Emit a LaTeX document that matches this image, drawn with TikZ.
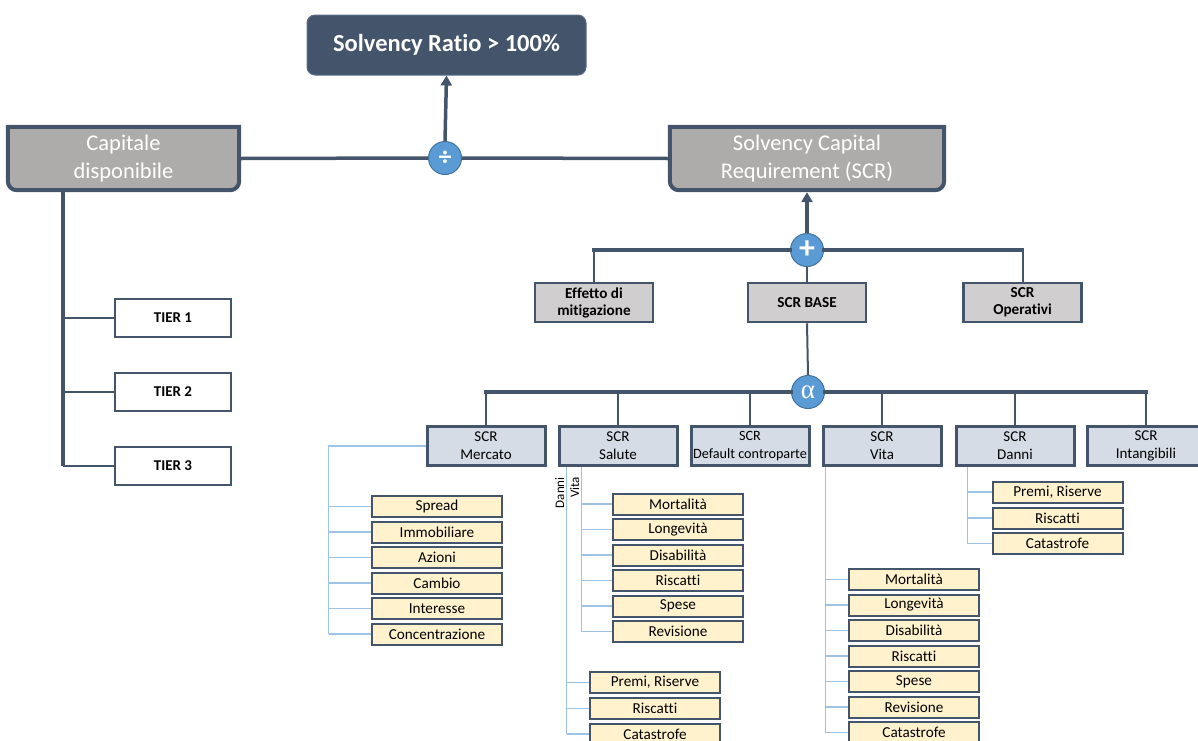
\documentclass[tikz,border=0pt]{standalone}
\usepackage{fontspec}
\setmainfont{Carlito}[Ligatures=NoCommon]
\newfontfamily\greekserif{Liberation Serif}
\usetikzlibrary{arrows.meta,backgrounds,calc}
\definecolor{dark}{HTML}{44546A}
\definecolor{darkedge}{HTML}{5A6E8C}
\definecolor{capgray}{HTML}{AEABAB}
\definecolor{midgray}{HTML}{D0CECE}
\definecolor{bluegray}{HTML}{D6DCE5}
\definecolor{cream}{HTML}{FFF2CC}
\definecolor{circblue}{HTML}{5B9BD5}
\definecolor{circedge}{HTML}{41719C}
\definecolor{lblue}{HTML}{9DC3E6}
\begin{document}
\begin{tikzpicture}[x=1pt,y=-1pt,
  ratiobox/.style={rectangle, rounded corners=8pt, fill=dark, draw=darkedge, line width=1pt,
    minimum width=279pt, minimum height=60pt, text=white, inner sep=0pt,
    font=\bfseries\fontsize{24.5}{28}\selectfont},
  bigbox/.style={rectangle, minimum height=63pt, text=white, align=center, inner sep=0pt,
    font=\fontsize{22.5}{28}\selectfont},
  bigoutline/.style={fill=capgray, draw=dark, line width=4pt},
  opcirc/.style={circle, fill=circblue, draw=circedge, line width=1pt, minimum size=33pt,
    inner sep=0pt, text=white},
  lvlbox/.style={rectangle, fill=midgray, draw=dark, line width=2.5pt, minimum width=118pt,
    minimum height=39pt, align=center, inner sep=0pt, font=\bfseries\fontsize{15.2}{17}\selectfont},
  secbox/.style={rectangle, fill=bluegray, draw=dark, line width=3pt, minimum width=118pt,
    minimum height=39pt, align=center, inner sep=0pt, font=\fontsize{15}{18}\selectfont},
  leafbox/.style={rectangle, fill=cream, draw=dark, line width=2pt, minimum width=130pt,
    minimum height=21pt, inner sep=0pt, font=\fontsize{15.2}{16}\selectfont},
  tierbox/.style={rectangle, fill=white, draw=dark, line width=1.5pt, minimum width=116pt,
    minimum height=38pt, inner sep=0pt, font=\bfseries\fontsize{15}{17}\selectfont},
  thickline/.style={draw=dark, line width=3.5pt},
  busdrop/.style={draw=dark, line width=2pt},
  tierline/.style={draw=dark, line width=1.5pt},
  lbline/.style={draw=lblue, line width=1.3pt},
  uparrow/.style={-{Triangle[width=11pt,length=10pt]}},
  sidelabel/.style={rotate=90, anchor=south east, inner sep=1pt, font=\fontsize{13}{14}\selectfont}
]
\useasboundingbox (0,0) rectangle (1198,740);
\clip (0,0) rectangle (1198,740);

% top level
\node[ratiobox] (ratio) at (446.5,45) {Solvency Ratio > 100\%};
\node[bigbox, minimum width=231pt] (cap) at (123.5,158.5) {Capitale\\disponibile};
\node[bigbox, minimum width=274pt] (scr) at (807,158.5) {Solvency Capital\\Requirement (SCR)};
\begin{scope}[on background layer]
  \path[bigoutline] (cap.north west) -- (cap.north east) {[rounded corners=9pt] -- (cap.south east) -- (cap.south west)} -- cycle;
  \path[bigoutline] (scr.north west) -- (scr.north east) {[rounded corners=9pt] -- (scr.south east) -- (scr.south west)} -- cycle;
\end{scope}

\node[opcirc, font=\bfseries\fontsize{26}{26}\selectfont] (div) at (445,158) {÷};
\node[opcirc, font=\bfseries\fontsize{32}{32}\selectfont] (plus) at (807,250) {+};

% level 1
\node[lvlbox] (eff) at (594,302.5) {Effetto di\\mitigazione};
\node[lvlbox] (base) at (807,302.5) {SCR BASE};
\node[lvlbox] (oper) at (1022.5,302.5) {SCR\\Operativi};

\node[opcirc, font=\greekserif\fontsize{27}{27}\selectfont] (alpha) at (808,392) {α};

% level 2
\node[secbox] (merc) at (486,446) {SCR\\Mercato};
\node[secbox] (sal) at (618,446) {SCR\\Salute};
\node[secbox, font=\fontsize{14.2}{18}\selectfont] (def) at (750,446) {SCR\\Default controparte};
\node[secbox] (vita) at (882,446) {SCR\\Vita};
\node[secbox] (danni) at (1015,446) {SCR\\Danni};
\node[secbox] (intang) at (1146,446) {SCR\\Intangibili};

% tiers
\node[tierbox] (t1) at (173,318) {TIER 1};
\node[tierbox] (t2) at (173,392) {TIER 2};
\node[tierbox] (t3) at (173,466) {TIER 3};

% leaves: Mercato
\foreach \n/\y/\t in {m1/506.5/Spread, m2/532/Immobiliare, m3/557.5/Azioni, m4/583/Cambio, m5/608.5/Interesse, m6/634/Concentrazione}
  \node[leafbox] (\n) at (437,\y) {\t};
% leaves: Salute Vita
\foreach \n/\y/\t in {sv1/504/Mortalità, sv2/529.5/Longevità, sv3/555/Disabilità, sv4/580.5/Riscatti, sv5/606/Spese, sv6/631.5/Revisione}
  \node[leafbox] (\n) at (678,\y) {\t};
% leaves: Salute Danni
\foreach \n/\y/\t in {sd1/682.5/{Premi, Riserve}, sd2/708.5/Riscatti, sd3/734/Catastrofe}
  \node[leafbox] (\n) at (655,\y) {\t};
% leaves: Vita
\foreach \n/\y/\t in {v1/579.5/Mortalità, v2/605/Longevità, v3/630.5/Disabilità, v4/656/Riscatti, v5/681.5/Spese, v6/707/Revisione, v7/732.5/Catastrofe}
  \node[leafbox] (\n) at (914,\y) {\t};
% leaves: Danni
\foreach \n/\y/\t in {dn1/492/{Premi, Riserve}, dn2/518/Riscatti, dn3/543.5/Catastrofe}
  \node[leafbox] (\n) at (1057.5,\y) {\t};

% connectors top
\draw[thickline] (cap.east) -- (div.west);
\draw[thickline] (div.east) -- (scr.west);
\draw[thickline, uparrow] (div.north) -- (ratio.south);
\draw[thickline, uparrow, shorten >=2pt] (plus.north) -- (scr.south);

% plus bus
\draw[thickline, line cap=rect] (plus.west) -- (plus.west -| eff.north);
\draw[thickline, line cap=rect] (plus.east) -- (plus.east -| oper.north);
\draw[busdrop] (plus.west -| eff.north) -- (eff.north);
\draw[busdrop] (plus.east -| oper.north) -- (oper.north);
\draw[busdrop] (plus.south) -- (base.north);
\draw[busdrop] (base.south) -- (alpha.north);

% alpha bus
\draw[thickline, line cap=rect] (alpha.west) -- (alpha.west -| merc.north);
\draw[thickline, line cap=rect] (alpha.east) -- (alpha.east -| intang.north);
\foreach \n in {merc, sal, def}
  \draw[busdrop] (alpha.west -| \n.north) -- (\n.north);
\foreach \n in {vita, danni, intang}
  \draw[busdrop] (alpha.east -| \n.north) -- (\n.north);

% tiers
\coordinate (tx) at ($(cap.south west)+(55,0)$);
\draw[thickline, line width=4.5pt] (tx) -- (tx |- t3.west);
\foreach \n in {t1, t2, t3}
  \draw[tierline] (tx |- \n.west) -- (\n.west);

% Mercato tree
\coordinate (mx) at ($(merc.west)+(-97,0)$);
\draw[lbline] (merc.west) -- (mx) -- (mx |- m6.west);
\foreach \n in {m1,m2,m3,m4,m5,m6}
  \draw[lbline] (mx |- \n.west) -- (\n.west);

% Salute trees
\coordinate (sdx) at ($(sal.south west)+(9,0)$);
\coordinate (svx) at ($(sal.south west)+(24,0)$);
\draw[lbline] (svx) -- (svx |- sv6.west);
\foreach \n in {sv1,sv2,sv3,sv4,sv5,sv6}
  \draw[lbline] (svx |- \n.west) -- (\n.west);
\draw[lbline] (sdx) -- (sdx |- sd3.west);
\foreach \n in {sd1,sd2,sd3}
  \draw[lbline] (sdx |- \n.west) -- (\n.west);
\node[sidelabel] (lbdanni) at ($(sdx)+(-1,9)$) {Danni};
\node[sidelabel] (lbvita) at ($(svx)+(-1,9)$) {Vita};

% Vita tree
\coordinate (vx) at ($(vita.south west)+(4,0)$);
\draw[lbline] (vx) -- (vx |- v7.west);
\foreach \n in {v1,v2,v3,v4,v5,v6,v7}
  \draw[lbline] (vx |- \n.west) -- (\n.west);

% Danni tree
\coordinate (dx) at ($(danni.south west)+(13,0)$);
\draw[lbline] (dx) -- (dx |- dn3.west);
\foreach \n in {dn1,dn2,dn3}
  \draw[lbline] (dx |- \n.west) -- (\n.west);
\end{tikzpicture}
\end{document}
